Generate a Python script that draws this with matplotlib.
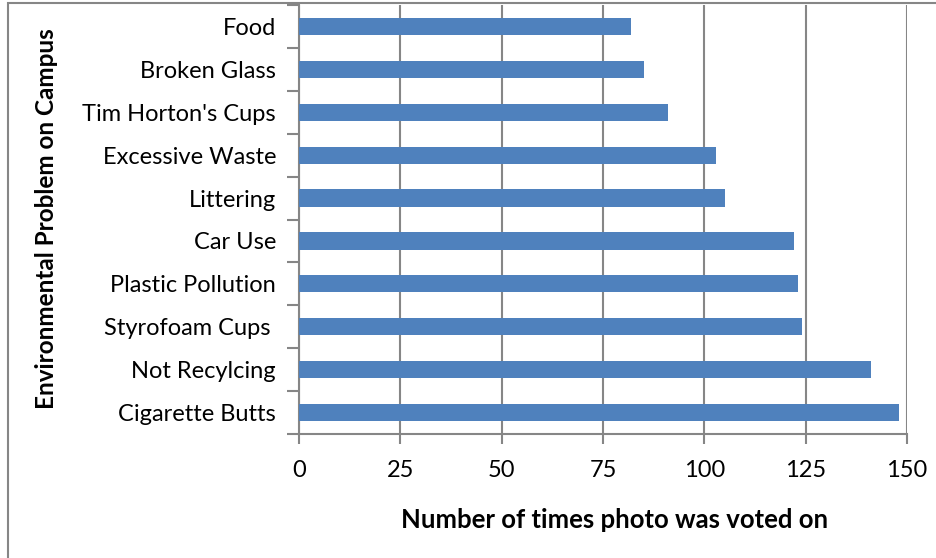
import matplotlib
matplotlib.use("Agg")
import matplotlib.pyplot as plt
from matplotlib.patches import Rectangle

categories = ["Food", "Broken Glass", "Tim Horton's Cups", "Excessive Waste", "Littering",
              "Car Use", "Plastic Pollution", "Styrofoam Cups ", "Not Recylcing", "Cigarette Butts"]
votes = [82, 85, 91, 103, 105, 122, 123, 124, 141, 148]
x_ticks = [0, 25, 50, 75, 100, 125, 150]

W, H = 936, 558
plt.rcParams['font.family'] = ['Lato', 'DejaVu Sans']
fig = plt.figure(figsize=(W / 100, H / 100), dpi=100)
ax = fig.add_axes([299 / W, 1 - 434 / H, (907 - 299) / W, (434 - 5) / H])

grey = '#868686'
n = len(categories)
ypos = [n - 1 - i for i in range(n)]
ax.barh(ypos, votes, height=0.4, color='#4F81BD', zorder=3)
ax.set_xlim(0, 150)
ax.set_ylim(-0.5, n - 0.5)
ax.set_xticks(x_ticks)
ax.set_xticklabels([str(t) for t in x_ticks], fontsize=17)
ax.set_yticks(ypos)
ax.set_yticklabels(categories, fontsize=17)
ax.tick_params(axis='y', length=0, pad=16.5)
ax.set_yticks([i - 0.5 for i in range(n + 1)], minor=True)
ax.tick_params(axis='y', which='minor', length=9, color=grey, width=1.5)
ax.tick_params(axis='x', length=7, color=grey, width=1.5, pad=12)
ax.grid(axis='x', color=grey, linewidth=1.5, zorder=0)
for s in ['top', 'right']:
    ax.spines[s].set_visible(False)
for s in ['left', 'bottom']:
    ax.spines[s].set_color(grey)
    ax.spines[s].set_linewidth(1.5)
ax.set_xlabel("Number of times photo was voted on", fontsize=18.5, fontweight='bold')
ax.xaxis.set_label_coords((615 - 299) / (907 - 299), -(520 - 434) / (434 - 5), transform=ax.transAxes)
ax.xaxis.label.set_va('center')
ax.set_ylabel("Environmental Problem on Campus", fontsize=17.5, fontweight='bold')
ax.yaxis.set_label_coords(-(299 - 47) / (907 - 299), (434 - 219) / (434 - 5))
ax.yaxis.label.set_va('center')

fig.patches.append(Rectangle((8 / W, -0.02), 1.05, 1 - 3 / H + 0.02, transform=fig.transFigure,
                             fill=False, edgecolor=grey, linewidth=1.5, zorder=0))
fig.savefig("out.png", dpi=100)
